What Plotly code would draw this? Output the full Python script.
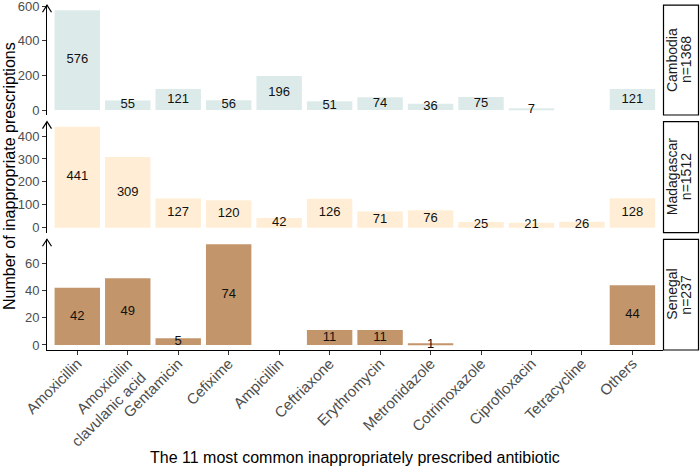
import plotly.graph_objects as go

W, H = 700, 467

categories = ["Amoxicillin", "Amoxicillin<br>clavulanic acid", "Gentamicin", "Cefixime",
              "Ampicillin", "Ceftriaxone", "Erythromycin", "Metronidazole",
              "Cotrimoxazole", "Ciprofloxacin", "Tetracycline", "Others"]
cambodia = [576, 55, 121, 56, 196, 51, 74, 36, 75, 7, None, 121]
madagascar = [441, 309, 127, 120, 42, 126, 71, 76, 25, 21, 26, 128]
senegal = [42, 49, 5, 74, None, 11, 11, 1, None, None, None, 44]
countries = ["Cambodia", "Madagascar", "Senegal"]
n_labels = ["n=1368", "n=1512", "n=237"]
colors = ["#DCEBEA", "#FFEED5", "#C2956B"]
yticks = [[0, 200, 400, 600], [0, 100, 200, 300, 400], [0, 20, 40, 60]]

FONT = "Liberation Sans, Arial, sans-serif"


def px(x):
    return x / W


def py(y):
    return 1 - y / H


# panel pixel extents (top, bottom)
panels = [(5.2, 115.0), (121.6, 232.7), (239.3, 350.0)]
x_left, x_right = 47.0, 662.7

series = [cambodia, madagascar, senegal]
fig = go.Figure()
axnames = ["y", "y2", "y3"]
for i, (vals, col) in enumerate(zip(series, colors)):
    fig.add_trace(go.Bar(x=categories, y=vals, marker_color=col, marker_line_width=0,
                         width=0.9, yaxis=axnames[i], xaxis="x", showlegend=False,
                         hoverinfo="skip"))
    tx = [c for c, v in zip(categories, vals) if v is not None]
    ty = [v / 2 for v in vals if v is not None]
    tt = [str(v) for v in vals if v is not None]
    fig.add_trace(go.Scatter(x=tx, y=ty, text=tt, mode="text", yaxis=axnames[i], xaxis="x",
                             textfont=dict(family=FONT, size=13, color="#111111"),
                             showlegend=False, cliponaxis=False, hoverinfo="skip"))

layout = dict(
    width=W, height=H, margin=dict(l=0, r=0, t=0, b=0),
    plot_bgcolor="white", paper_bgcolor="white",
    font=dict(family=FONT),
    bargap=0.1,
    xaxis=dict(domain=[px(x_left), px(x_right)], range=[-0.6, 11.6], anchor="y3",
               type="category", categoryorder="array", categoryarray=categories,
               showline=True, linecolor="black", linewidth=1,
               ticks="outside", ticklen=4, tickcolor="#333333", tickwidth=1,
               tickangle=-45, tickfont=dict(family=FONT, size=15, color="#4D4D4D"),
               ticklabelstandoff=-6,
               showgrid=False, zeroline=False, automargin=False),
)
ranges = []
for vals in series:
    m = max(v for v in vals if v is not None)
    ranges.append([-0.05 * m, 1.05 * m])
for i, (top, bot) in enumerate(panels):
    key = "yaxis" if i == 0 else f"yaxis{i+1}"
    layout[key] = dict(domain=[py(bot), py(top)], range=ranges[i], anchor="x",
                       showline=True, linecolor="black", linewidth=1,
                       ticks="outside", ticklen=4, tickcolor="#333333", tickwidth=1,
                       tickvals=yticks[i], tickfont=dict(family=FONT, size=13, color="#4D4D4D"),
                       ticklabeloverflow="allow",
                       showgrid=False, zeroline=False, automargin=False)
fig.update_layout(**layout)

shapes = []
annotations = []
for i, (top, bot) in enumerate(panels):
    # open arrow head on y axis
    shapes.append(dict(type="path", xref="paper", yref="paper",
                       path=f"M {px(x_left-4.5)},{py(top+7)} L {px(x_left)},{py(top)} L {px(x_left+4.5)},{py(top+7)}",
                       line=dict(color="black", width=1.2)))
    # strip box
    shapes.append(dict(type="rect", xref="paper", yref="paper",
                       x0=px(663.5), x1=px(698.5), y0=py(bot), y1=py(top),
                       line=dict(color="black", width=1.2), fillcolor="white"))
    for lx, txt in ((672.0, countries[i]), (686.0, n_labels[i])):
        annotations.append(dict(xref="paper", yref="paper", x=px(lx), y=py((top + bot) / 2),
                                text=txt, showarrow=False,
                                textangle=-90, font=dict(family=FONT, size=14, color="#1A1A1A"),
                                xanchor="center", yanchor="middle"))

annotations.append(dict(xref="paper", yref="paper", x=px(10), y=py(176),
                        text="Number of inappropriate prescriptions", showarrow=False,
                        textangle=-90, font=dict(family=FONT, size=16, color="black"),
                        xanchor="center", yanchor="middle"))
annotations.append(dict(xref="paper", yref="paper", x=px(355), y=py(457),
                        text="The 11 most common inappropriately prescribed antibiotic",
                        showarrow=False, font=dict(family=FONT, size=16, color="black"),
                        xanchor="center", yanchor="middle"))
fig.update_layout(shapes=shapes, annotations=annotations)

fig.write_html("out.html", config={"displayModeBar": False},
               post_script="document.body.style.margin='0px';")
